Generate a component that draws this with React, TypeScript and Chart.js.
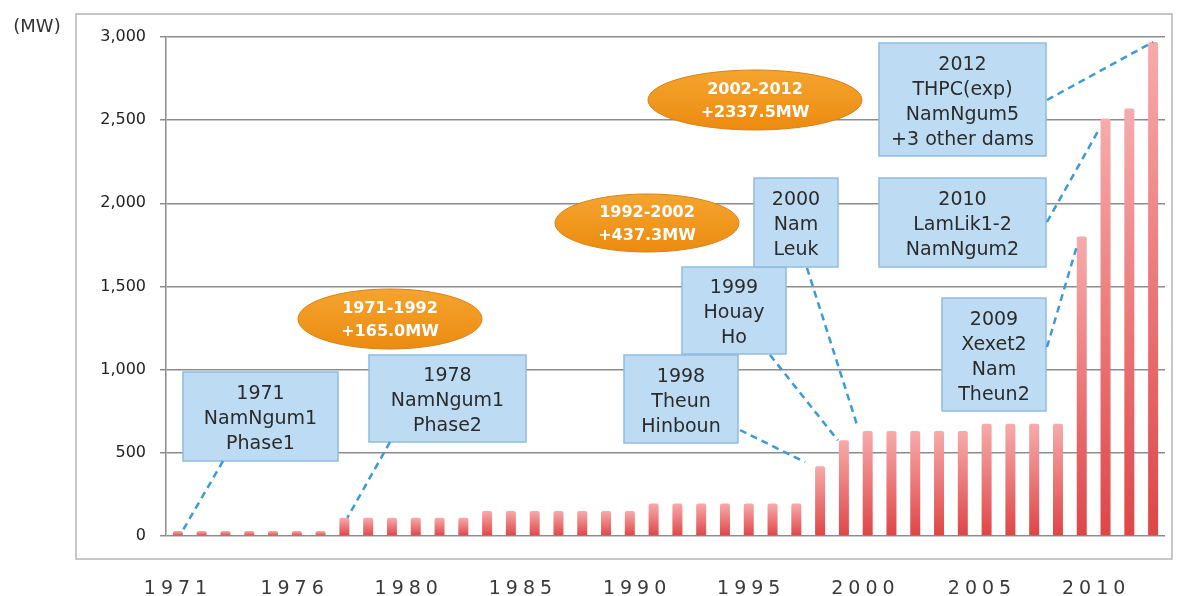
import React, { useEffect, useRef } from 'react';
import { Chart, registerables } from 'chart.js';

Chart.register(...registerables);

// ---------- data ----------
const YEARS = [
  '1971', '1972', '1973', '1974', '1975', '1976', '1977', '1978', '1979', '1980',
  '1981', '1982', '1983', '1984', '1985', '1986', '1987', '1988', '1989', '1990',
  '1991', '1992', '1993', '1994', '1995', '1996', '1997', '1998', '1999', '2000',
  '2001', '2002', '2003', '2004', '2005', '2006', '2007', '2008', '2009', '2010',
  '2011', '2012',
];
const CAPACITY_MW = [
  30, 30, 30, 30, 30, 30, 30, 110, 110, 110,
  110, 110, 110, 150, 150, 150, 150, 150, 150, 150,
  195, 195, 195, 195, 195, 195, 195, 420, 575, 632,
  632, 632, 632, 632, 675, 675, 675, 675, 1800, 2510,
  2570, 2970,
];
// x-axis labels as printed, and their (fractional) category positions
const X_LABELS = ['1971', '1976', '1980', '1985', '1990', '1995', '2000', '2005', '2010'];
const X_LABEL_POS = [-0.1, 4.8, 9.6, 14.4, 19.2, 24.0, 28.8, 33.7, 38.5];
const Y_MIN = 0;
const Y_MAX = 3000;
const Y_STEP = 500;
const Y_UNIT = '(MW)';

// callout boxes: text lines, box rect, leader start, target year
const CALLOUT_LINES = [
  ['1971', 'NamNgum1', 'Phase1'],
  ['1978', 'NamNgum1', 'Phase2'],
  ['1998', 'Theun', 'Hinboun'],
  ['1999', 'Houay', 'Ho'],
  ['2000', 'Nam', 'Leuk'],
  ['2010', 'LamLik1-2', 'NamNgum2'],
  ['2009', 'Xexet2', 'Nam', 'Theun2'],
  ['2012', 'THPC(exp)', 'NamNgum5', '+3 other dams'],
];
const CALLOUT_TARGET = ['1971', '1978', '1998', '1999', '2000', '2010', '2009', '2012'];
const CALLOUT_BOX = [
  [183, 372, 155, 89],
  [369, 355, 157, 87],
  [624, 355, 114, 88],
  [682, 267, 104, 87],
  [754, 178, 84, 89],
  [879, 178, 167, 89],
  [942, 298, 104, 113],
  [879, 43, 167, 113],
];
const CALLOUT_FROM = [
  [223, 461], [390, 442], [740, 430], [770, 355], [807, 268], [1047, 222], [1047, 347], [1047, 100],
];
const CALLOUT_END_OFFSET = [
  [4, 1], [3, 0], [-15, -4], [-6, 0], [-10, -4], [-6, 10], [-5, 10], [0, 0],
];

const GROWTH_LINES = [
  ['1971-1992', '+165.0MW'],
  ['1992-2002', '+437.3MW'],
  ['2002-2012', '+2337.5MW'],
];
const GROWTH_ELLIPSE = [
  [390, 319, 92, 30],
  [647, 223, 92, 29],
  [755, 100, 107, 30],
];

const FONT = 'DejaVu Sans';

const decorPlugin = {
  id: 'decor',
  beforeDraw(chart: any) {
    const ctx = chart.ctx as CanvasRenderingContext2D;
    ctx.save();
    ctx.fillStyle = '#ffffff';
    ctx.fillRect(0, 0, chart.width, chart.height);
    ctx.strokeStyle = '#b4b4b4';
    ctx.lineWidth = 1.5;
    ctx.strokeRect(76, 14, 1096, 545);
    ctx.restore();
  },
  afterDraw(chart: any) {
    const ctx = chart.ctx as CanvasRenderingContext2D;
    const xs = chart.scales.x;
    const ys = chart.scales.y;
    ctx.save();

    // unit label
    ctx.fillStyle = '#333';
    ctx.font = `18px ${FONT}`;
    ctx.textAlign = 'center';
    ctx.textBaseline = 'middle';
    ctx.fillText(Y_UNIT, 37, 27);

    // x labels with letter spacing
    const p0 = xs.getPixelForValue(0);
    const step = xs.getPixelForValue(1) - p0;
    const ls = 5;
    ctx.font = `19px ${FONT}`;
    ctx.fillStyle = '#3a3a3a';
    (ctx as any).letterSpacing = `${ls}px`;
    ctx.textAlign = 'left';
    ctx.textBaseline = 'alphabetic';
    X_LABELS.forEach((t, i) => {
      const cx = p0 + X_LABEL_POS[i] * step;
      const w = ctx.measureText(t).width - ls;
      ctx.fillText(t, cx - w / 2, 594);
    });
    (ctx as any).letterSpacing = '0px';

    // growth ellipses
    GROWTH_ELLIPSE.forEach(([cx, cy, rx, ry], i) => {
      const g = ctx.createLinearGradient(0, cy - ry, 0, cy + ry);
      g.addColorStop(0, '#f5a42e');
      g.addColorStop(1, '#ec8b10');
      ctx.beginPath();
      ctx.ellipse(cx, cy, rx, ry, 0, 0, Math.PI * 2);
      ctx.fillStyle = g;
      ctx.fill();
      ctx.strokeStyle = '#d9821a';
      ctx.lineWidth = 1;
      ctx.stroke();
      ctx.fillStyle = '#ffffff';
      ctx.font = `bold 16px ${FONT}`;
      ctx.textAlign = 'center';
      ctx.textBaseline = 'middle';
      ctx.fillText(GROWTH_LINES[i][0], cx, cy - 10);
      ctx.fillText(GROWTH_LINES[i][1], cx, cy + 13);
    });

    // callout boxes
    CALLOUT_LINES.forEach((lines, i) => {
      const [bx, by, bw, bh] = CALLOUT_BOX[i];
      ctx.fillStyle = '#bddcf3';
      ctx.fillRect(bx, by, bw, bh);
      ctx.strokeStyle = '#90bbe0';
      ctx.lineWidth = 1.5;
      ctx.strokeRect(bx, by, bw, bh);
      ctx.fillStyle = '#2b2b2b';
      ctx.font = `19px ${FONT}`;
      ctx.textAlign = 'center';
      ctx.textBaseline = 'middle';
      const lh = 25;
      const cy = by + bh / 2 + 3;
      lines.forEach((ln, k) => {
        ctx.fillText(ln, bx + bw / 2, cy + (k - (lines.length - 1) / 2) * lh);
      });
    });

    // leader lines
    ctx.strokeStyle = '#3b9ad8';
    ctx.lineWidth = 2.5;
    ctx.setLineDash([7, 5]);
    CALLOUT_TARGET.forEach((yr, i) => {
      const idx = YEARS.indexOf(yr);
      const ex = xs.getPixelForValue(idx) + CALLOUT_END_OFFSET[i][0];
      const ey = ys.getPixelForValue(CAPACITY_MW[idx]) + CALLOUT_END_OFFSET[i][1];
      ctx.beginPath();
      ctx.moveTo(CALLOUT_FROM[i][0], CALLOUT_FROM[i][1]);
      ctx.lineTo(ex, ey);
      ctx.stroke();
    });
    ctx.setLineDash([]);
    ctx.restore();
  },
};

export default function App() {
  const ref = useRef<HTMLCanvasElement | null>(null);
  useEffect(() => {
    if (!ref.current) return;
    Chart.defaults.font.family = FONT;
    const chart = new Chart(ref.current, {
      type: 'bar',
      data: {
        labels: YEARS,
        datasets: [
          {
            label: 'Installed capacity (MW)',
            data: CAPACITY_MW,
            barPercentage: 0.42,
            categoryPercentage: 1,
            borderRadius: { topLeft: 2, topRight: 2, bottomLeft: 0, bottomRight: 0 },
            backgroundColor: (c: any) => {
              const chart = c.chart;
              const ys = chart.scales?.y;
              if (!chart.chartArea || !ys || c.type !== 'data') return '#e86262';
              const top = ys.getPixelForValue(c.raw as number);
              const base = ys.getPixelForValue(0);
              if (!isFinite(top) || !isFinite(base) || base - top < 1) return '#e86262';
              const g = chart.ctx.createLinearGradient(0, top, 0, base);
              g.addColorStop(0, '#f7abab');
              g.addColorStop(1, '#df4547');
              return g;
            },
          },
        ],
      },
      options: {
        responsive: false,
        animation: false,
        layout: { padding: { left: 0, top: 37, right: 16, bottom: 60 } },
        plugins: { legend: { display: false }, tooltip: { enabled: false }, title: { display: false } },
        scales: {
          x: {
            type: 'category',
            grid: { display: false, drawTicks: false },
            ticks: { display: false },
            border: { display: false },
          },
          y: {
            min: Y_MIN,
            max: Y_MAX,
            ticks: {
              stepSize: Y_STEP,
              padding: 14,
              color: '#222',
              font: { family: FONT, size: 16 },
              callback: (v: any) => Number(v).toLocaleString('en-US'),
            },
            grid: { color: '#8c8c8c', lineWidth: 1.5, tickLength: 6, drawTicks: true },
            border: { display: true, color: '#8c8c8c', width: 1.5 },
            afterFit: (s: any) => {
              s.width = 166;
            },
          },
        },
      },
      plugins: [decorPlugin],
    });
    return () => chart.destroy();
  }, []);
  return (
    <div style={{ position: 'absolute', left: 0, top: 0, width: 1181, height: 596 }}>
      <canvas ref={ref} width={1181} height={596} />
    </div>
  );
}
